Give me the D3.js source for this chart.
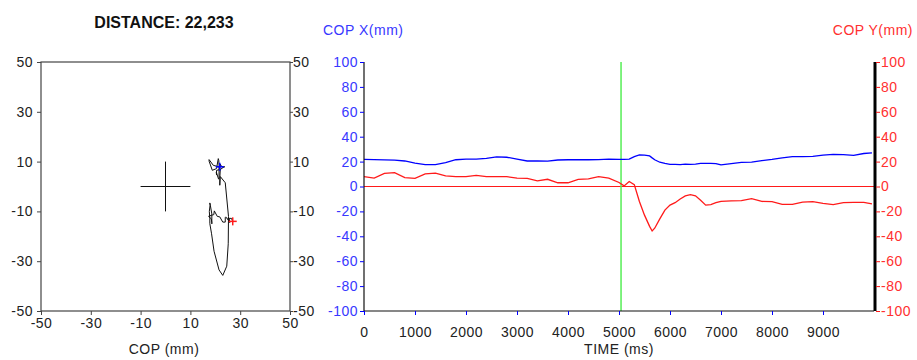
<!DOCTYPE html>
<html><head><meta charset="utf-8">
<script src="https://cdn.jsdelivr.net/npm/d3@7/dist/d3.min.js"></script>
<style>
body{margin:0;background:#fff;}
svg{display:block;font-family:"Liberation Sans",Arial,sans-serif;}
</style></head><body>
<svg id="c" width="917" height="360"></svg>
<script>
// ---- data ----
const timeMs = [0,200,400,600,800,1000,1200,1400,1600,1800,2000,2200,2400,2600,2800,3000,3200,3400,3600,3800,4000,4200,4400,4600,4800,5000,5100,5200,5300,5400,5500,5600,5650,5700,5800,5900,6000,6100,6200,6300,6400,6500,6600,6700,6800,6900,7000,7200,7400,7600,7800,8000,8200,8400,8600,8800,9000,9200,9400,9600,9800,9960];
const copX = [21.8,21.6,21.4,21.2,20.5,18.8,17.5,17.5,19.2,21.5,22,22,22.6,23.8,23.5,22,20.5,20.5,20.4,21.3,21.5,21.5,21.5,21.6,22,21.8,21.8,22,24,25.3,25.2,24.6,23,21.5,19.5,18.5,17.8,17.8,17.6,17.9,17.8,18,18.6,18.6,18.6,18.4,17.3,18.3,19.4,19.6,20.8,21.8,23,24,24,24.2,25.2,25.8,25.6,25,26.5,27];
const copY = [7.9,6.8,10.5,11.2,7.2,6.5,10.2,10.8,8.5,7.9,7.9,9,7.9,7.9,7.9,6.8,6.5,4.6,5.8,3,3,5.8,6.2,7.9,6.8,3.2,0.5,4,1.5,-12,-23,-32,-35.7,-33.5,-26,-19,-14.9,-13,-10,-7.5,-6.6,-7.5,-11,-15,-14.5,-13,-12,-11.6,-11.3,-9.8,-12,-12.2,-14.3,-14.3,-12.5,-12.2,-13.5,-14.5,-13,-12.8,-12.8,-14];
const copTicks = [-50,-30,-10,10,30,50];
const timeTicks = [0,1000,2000,3000,4000,5000,6000,7000,8000,9000];
const valueTicks = [-100,-80,-60,-40,-20,0,20,40,60,80,100];
const markerTime = 5040;
const distanceText = "DISTANCE: 22,233";

const svg = d3.select("#c");
const BLUE="#0000ff", BLUE_T="#3838ff", RED="#ff1a1a", RED_T="#ff3030", GREEN="#55ee55";
const FS = "14px";
const fmt = d => String(d);

// ---- left plot: COP trajectory ----
const xL = d3.scaleLinear().domain([-50,50]).range([41,290]);
const yL = d3.scaleLinear().domain([-50,50]).range([311,62]);

svg.append("text").attr("x",164).attr("y",28).attr("text-anchor","middle")
  .style("font-weight","bold").style("font-size","16px").attr("fill","#111").text(distanceText);

svg.append("rect").attr("x",xL(-50)).attr("y",yL(50)).attr("width",xL(50)-xL(-50)).attr("height",yL(-50)-yL(50))
  .attr("fill","none").attr("stroke","#444").attr("stroke-width",1.2);

function styleAxis(g, col, txtCol){
  g.select(".domain").remove();
  g.selectAll(".tick line").attr("stroke",col);
  g.selectAll(".tick text").attr("fill",txtCol).style("font-size",FS).style("letter-spacing","0.5px");
  g.attr("font-family",null);
}
svg.append("g").attr("transform",`translate(${xL(-50)},0)`)
  .call(d3.axisLeft(yL).tickValues(copTicks).tickSize(4).tickPadding(4).tickFormat(fmt))
  .call(g=>styleAxis(g,"#444","#222"));
svg.append("g").attr("transform",`translate(${xL(50)},0)`)
  .call(d3.axisRight(yL).tickValues(copTicks).tickSize(3).tickPadding(0).tickFormat(fmt))
  .call(g=>styleAxis(g,"#444","#222"));
svg.append("g").attr("transform",`translate(0,${yL(-50)})`)
  .call(d3.axisBottom(xL).tickValues(copTicks).tickSize(4).tickPadding(3).tickFormat(fmt))
  .call(g=>styleAxis(g,"#444","#222"));

svg.append("text").attr("x",164).attr("y",354).attr("text-anchor","middle")
  .style("font-size",FS).attr("fill","#222").style("letter-spacing","0.5px").text("COP (mm)");

// centre cross
svg.append("line").attr("x1",xL(-10)).attr("x2",xL(10)).attr("y1",yL(0)).attr("y2",yL(0)).attr("stroke","#111");
svg.append("line").attr("x1",xL(0)).attr("x2",xL(0)).attr("y1",yL(10)).attr("y2",yL(-10)).attr("stroke","#111");

const traj = timeMs.map((t,i)=>[copX[i],copY[i]]);
svg.append("path").datum(traj)
  .attr("d",d3.line().x(d=>xL(d[0])).y(d=>yL(d[1])))
  .attr("fill","none").attr("stroke","#111").attr("stroke-width",1);

function plus(x,y,col){
  svg.append("line").attr("x1",x-4).attr("x2",x+4).attr("y1",y).attr("y2",y).attr("stroke",col).attr("stroke-width",1.5);
  svg.append("line").attr("x1",x).attr("x2",x).attr("y1",y-4).attr("y2",y+4).attr("stroke",col).attr("stroke-width",1.5);
}
plus(xL(copX[0]),yL(copY[0]),BLUE);
plus(xL(copX[copX.length-1]),yL(copY[copY.length-1]),RED);

// ---- right plot: time series ----
const xR = d3.scaleLinear().domain([0,10000]).range([364,874]);
const yR = d3.scaleLinear().domain([-100,100]).range([311,62]);

svg.append("line").attr("x1",xR(0)).attr("x2",xR(10000)).attr("y1",yR(0)).attr("y2",yR(0)).attr("stroke",RED).attr("stroke-width",1.2);
svg.append("line").attr("x1",xR(markerTime)).attr("x2",xR(markerTime)).attr("y1",yR(100)).attr("y2",yR(-100)).attr("stroke",GREEN).attr("stroke-width",1.5);

svg.append("path").datum(timeMs.map((t,i)=>[t,copX[i]]))
  .attr("d",d3.line().x(d=>xR(d[0])).y(d=>yR(d[1])))
  .attr("fill","none").attr("stroke",BLUE).attr("stroke-width",1.3);
svg.append("path").datum(timeMs.map((t,i)=>[t,copY[i]]))
  .attr("d",d3.line().x(d=>xR(d[0])).y(d=>yR(d[1])))
  .attr("fill","none").attr("stroke",RED).attr("stroke-width",1.3);

// axes lines
svg.append("line").attr("x1",xR(0)).attr("x2",xR(0)).attr("y1",yR(100)).attr("y2",yR(-100)).attr("stroke","#111").attr("stroke-width",1.2);
svg.append("line").attr("x1",xR(0)).attr("x2",xR(10000)).attr("y1",yR(-100)).attr("y2",yR(-100)).attr("stroke","#111").attr("stroke-width",1.2);
svg.append("line").attr("x1",xR(10000)+1).attr("x2",xR(10000)+1).attr("y1",yR(100)).attr("y2",yR(-100)).attr("stroke","#000").attr("stroke-width",3);

svg.append("g").attr("transform",`translate(${xR(0)},0)`)
  .call(d3.axisLeft(yR).tickValues(valueTicks).tickSize(4).tickPadding(2).tickFormat(fmt))
  .call(g=>styleAxis(g,BLUE,BLUE_T));
svg.append("g").attr("transform",`translate(${xR(10000)+2},0)`)
  .call(d3.axisRight(yR).tickValues(valueTicks).tickSize(4).tickPadding(1).tickFormat(fmt))
  .call(g=>styleAxis(g,RED,RED_T));
svg.append("g").attr("transform",`translate(0,${yR(-100)})`)
  .call(d3.axisBottom(xR).tickValues(timeTicks).tickSize(4).tickPadding(12).tickFormat(fmt))
  .call(g=>styleAxis(g,BLUE,"#222"));

svg.append("text").attr("x",323).attr("y",35).style("font-size",FS).attr("fill",BLUE_T).style("letter-spacing","0.5px").text("COP X(mm)");
svg.append("text").attr("x",913).attr("y",35).attr("text-anchor","end").style("font-size",FS).attr("fill",RED_T).style("letter-spacing","0.5px").text("COP Y(mm)");
svg.append("text").attr("x",619).attr("y",354).attr("text-anchor","middle").style("font-size",FS).attr("fill","#222").style("letter-spacing","0.5px").text("TIME (ms)");
</script></body></html>
